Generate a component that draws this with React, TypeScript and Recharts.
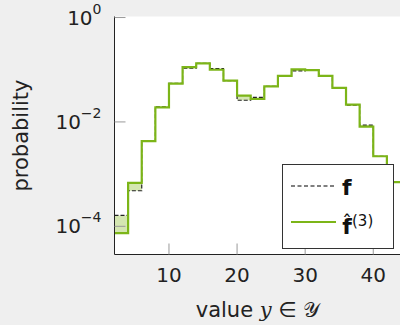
import {
  ComposedChart,
  Line,
  Area,
  XAxis,
  YAxis,
  CartesianGrid,
  Legend,
} from 'recharts';

// bin edges (width 2); the last edge closes the final step
const binEdges = [2, 4, 6, 8, 10, 12, 14, 16, 18, 20, 22, 24, 26, 28, 30, 32, 34, 36, 38, 40, 42, 44];
// true distribution f, one value per bin
const trueProb = [
  1.62e-4, 4.8e-4, 4.3e-3, 0.0195, 0.055, 0.107, 0.132, 0.105, 0.062, 0.026, 0.0295,
  0.048, 0.076, 0.095, 0.098, 0.076, 0.045, 0.021, 0.0087, 0.0022, 0.0007,
];
// estimate f-hat^(3)
const estProb = [
  7.4e-5, 6.8e-4, 4.3e-3, 0.019, 0.054, 0.112, 0.132, 0.1, 0.062, 0.032, 0.0275,
  0.048, 0.076, 0.102, 0.098, 0.076, 0.045, 0.0214, 0.0081, 0.0022, 0.0007,
];
const xTicks = [10, 20, 30, 40];
const yTicks = [1e-4, 1e-2, 1];

const xDomain = [2, 44];
const yDomain = [Math.pow(10, -4.54), Math.pow(10, 0.02)];

const GREEN = '#7cb518';
const FONT = '"DejaVu Sans", sans-serif';

const rows = binEdges.map((x, i) => {
  const j = Math.min(i, trueProb.length - 1);
  return { x, f: trueProb[j], fhat: estProb[j] };
});

const YTick = ({ x, y, payload }: any) => {
  const exp = Math.round(Math.log10(payload.value));
  return (
    <text x={x} y={y} dy={7} textAnchor="end" fontSize={20} fill="#222" fontFamily={FONT}>
      10
      <tspan dy={-11} fontSize={14}>
        {exp === 0 ? '0' : '\u2212' + Math.abs(exp)}
      </tspan>
    </text>
  );
};

const XLabel = ({ viewBox }: any) => (
  <text
    x={viewBox.x + viewBox.width / 2}
    y={viewBox.y + 62}
    textAnchor="middle"
    fontSize={21}
    fill="#222"
    fontFamily={FONT}
  >
    value{' '}
    <tspan fontFamily='"DejaVu Serif", serif' fontStyle="italic">
      y
    </tspan>{' '}
    ∈ 𝒴
  </text>
);

const YLabel = ({ viewBox }: any) => {
  const cx = viewBox.x + 28;
  const cy = viewBox.y + viewBox.height / 2;
  return (
    <text
      x={cx}
      y={cy}
      transform={`rotate(-90 ${cx} ${cy})`}
      textAnchor="middle"
      fontSize={21}
      fill="#222"
      fontFamily={FONT}
    >
      probability
    </text>
  );
};

const LegendBox = () => (
  <div
    style={{
      width: 112,
      height: 85,
      border: '1px solid #333',
      background: '#fff',
      boxSizing: 'border-box',
    }}
  >
    <svg width={110} height={83} style={{ display: 'block' }}>
      <line x1={8} x2={53} y1={21} y2={21} stroke="#555" strokeWidth={1.3} strokeDasharray="4 2.5" />
      <text x={59} y={30} fontSize={22} fontWeight="bold" fill="#111" fontFamily={FONT}>
        f
      </text>
      <line x1={8} x2={53} y1={57} y2={57} stroke={GREEN} strokeWidth={2} />
      <text x={59} y={69} fontSize={22} fontWeight="bold" fill="#111" fontFamily={FONT}>
        f
        <tspan dx={-9.8} dy={-5} fontSize={20} fontWeight="normal">
          ˆ
        </tspan>
        <tspan dx={0} dy={-3} fontSize={15} fontWeight="normal">
          (3)
        </tspan>
      </text>
    </svg>
  </div>
);

export default function App() {
  return (
    <div
      style={{
        position: 'absolute',
        left: 0,
        top: 0,
        width: 400,
        height: 325,
        overflow: 'hidden',
        background: '#efefef',
      }}
    >
      <ComposedChart
        width={420}
        height={325}
        data={rows}
        margin={{ top: 16.5, right: 19.5, bottom: 0, left: 0 }}
      >
        <CartesianGrid horizontal={false} vertical={false} fill="#fff" />
        <XAxis
          dataKey="x"
          type="number"
          domain={xDomain}
          allowDataOverflow
          ticks={xTicks}
          height={70.5}
          tickSize={-11}
          tickMargin={24}
          axisLine={{ stroke: '#222' }}
          tickLine={{ stroke: '#999' }}
          tick={{ fontSize: 20, fill: '#222', fontFamily: FONT }}
          label={<XLabel />}
        />
        <XAxis
          xAxisId="top"
          dataKey="x"
          type="number"
          orientation="top"
          domain={xDomain}
          allowDataOverflow
          ticks={xTicks}
          height={0}
          tickSize={-11}
          axisLine={{ stroke: '#222' }}
          tickLine={{ stroke: '#999' }}
          tick={() => <g />}
        />
        <YAxis
          type="number"
          scale="log"
          domain={yDomain}
          allowDataOverflow
          ticks={yTicks}
          width={114.5}
          tickSize={-11}
          tickMargin={24}
          axisLine={{ stroke: '#222' }}
          tickLine={{ stroke: '#999' }}
          tick={<YTick />}
          label={<YLabel />}
        />
        <YAxis
          yAxisId="right"
          type="number"
          orientation="right"
          scale="log"
          domain={yDomain}
          allowDataOverflow
          ticks={yTicks}
          width={0}
          tickSize={-11}
          axisLine={{ stroke: '#222' }}
          tickLine={{ stroke: '#999' }}
          tick={() => <g />}
        />
        <Area
          type="stepAfter"
          dataKey={(d: any) => [Math.min(d.f, d.fhat), Math.max(d.f, d.fhat)]}
          stroke="none"
          fill="#cfe3a8"
          fillOpacity={0.9}
          isAnimationActive={false}
        />
        <Line
          type="stepAfter"
          dataKey="f"
          stroke="#222"
          strokeWidth={1.2}
          strokeDasharray="4 2"
          dot={false}
          isAnimationActive={false}
        />
        <Line
          type="stepAfter"
          dataKey="fhat"
          stroke={GREEN}
          strokeWidth={2.2}
          dot={false}
          isAnimationActive={false}
        />
        <Legend
          layout="vertical"
          align="center"
          verticalAlign="middle"
          content={<LegendBox />}
          wrapperStyle={{ left: 282, top: 164, width: 112, height: 85 }}
        />
      </ComposedChart>
    </div>
  );
}
